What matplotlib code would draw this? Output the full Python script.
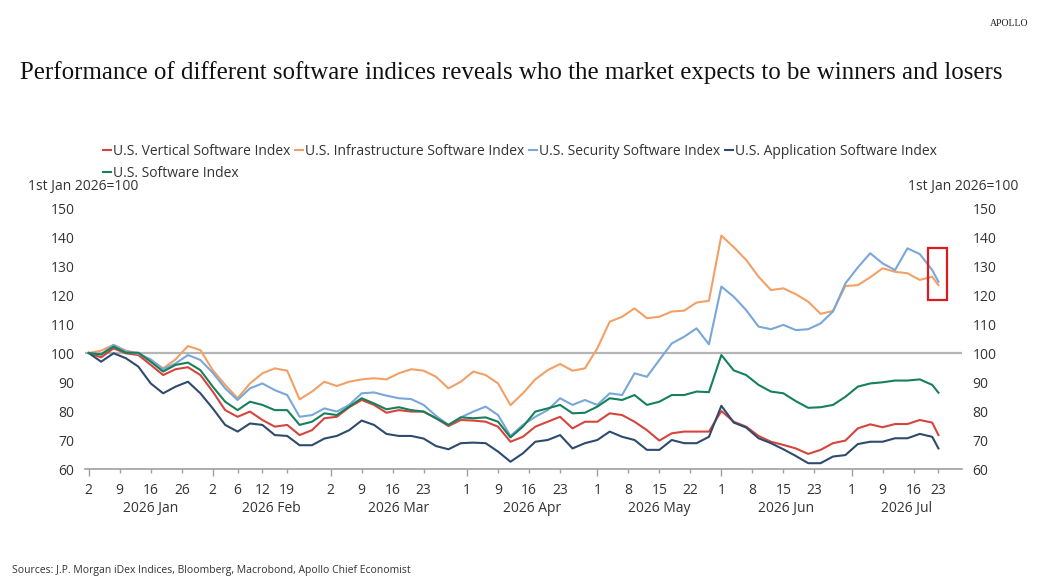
import matplotlib
matplotlib.use("Agg")
import matplotlib.pyplot as plt
import matplotlib.transforms as mtransforms
from matplotlib.patches import Rectangle
import numpy as np

# trading-day index of each reading (Jan 2 = 0)
days = list(range(0, 137, 2)) + [137]

vertical = [100, 98.5, 101.6, 99.9, 99.3, 95.9, 92.4, 94.4, 95.1, 92.4, 86.7, 80.3, 78, 79.8, 76.9, 74.6, 75.2, 71.7,
            73.4, 77.5, 78, 81.3, 83.8, 82.1, 79.4, 80.3, 79.8, 79.8, 77.5, 74.8, 76.9, 76.7, 76.3, 74.6, 69.4,
            71.1, 74.6, 76.3, 78, 74, 76.3, 76.3, 79.2, 78.6, 76.3, 73.4, 69.8, 72.3, 72.9, 72.9, 72.9, 80, 76.3,
            74.6, 71.4, 69.4, 68.3, 67.1, 65.2, 66.6, 68.9, 69.8, 74, 75.4, 74.4, 75.5, 75.5, 76.9, 76, 71.7]
infra = [100, 100.8, 102.8, 100.8, 99.9, 97.6, 94.7, 97.8, 102.4, 101, 94.1, 89, 84.4, 89.5, 93, 94.7, 93.9, 84,
         86.7, 90.1, 88.6, 90.1, 90.9, 91.3, 90.9, 93, 94.4, 93.9, 91.8, 87.8, 90.1, 93.6, 92.4, 89.5, 82,
         86.1, 90.9, 94.1, 96.2, 93.9, 94.7, 101.6, 110.8, 112.5, 115.4, 112, 112.5, 114.3, 114.6, 117.4, 118, 140.5, 136.5,
         132.1, 126.3, 121.7, 122.3, 120.3, 117.7, 113.5, 114.5, 123.1, 123.4, 126.1, 129.2, 128, 127.5, 125.2, 126.3, 123.4]
security = [100, 99.5, 102.8, 100.5, 99.7, 97.8, 94.4, 96.4, 99.3, 97.6, 93.2, 87.8, 83.8, 87.8, 89.5, 87.2, 85.5, 78,
            78.6, 80.9, 79.8, 82.1, 86.1, 86.4, 85.3, 84.4, 84.1, 82.1, 78.3, 75.2, 77.8, 79.8, 81.5, 78.6, 71.4,
            75.2, 78, 80.3, 84.4, 82.1, 83.8, 82.1, 86.1, 85.5, 93, 91.8, 97.6, 103.3, 105.6, 108.5, 103, 122.9, 119.4,
            114.8, 109.1, 108.2, 109.7, 107.9, 108.2, 110.2, 114.3, 124, 129.5, 134.4, 130.9, 128.6, 136.1, 134.1, 128.6, 124.6]
application = [100, 97, 99.9, 98.2, 95.3, 89.5, 86.1, 88.4, 90.1, 86.1, 80.9, 75.2, 72.9, 75.7, 75.2, 71.7, 71.4, 68.2,
               68.2, 70.5, 71.4, 73.4, 76.7, 75.2, 72.1, 71.4, 71.4, 70.5, 67.9, 66.8, 68.9, 69.1, 68.9, 66, 62.5,
               65.4, 69.4, 70, 71.7, 67.1, 68.9, 70, 72.9, 71.1, 70, 66.6, 66.6, 70, 68.9, 68.9, 71.1, 81.8, 76,
               74.3, 70.6, 68.9, 66.8, 64.5, 62, 62, 64.3, 64.8, 68.6, 69.4, 69.4, 70.6, 70.6, 72.1, 71.1, 67.1]
software = [100, 99.5, 102.2, 100.1, 100.1, 97, 93.6, 95.9, 96.7, 94.1, 88.4, 83.2, 80.3, 83.2, 82.1, 80.3, 80.3, 75.2,
            76.3, 79.2, 78.6, 81.5, 84.4, 82.6, 80.6, 81.3, 80.3, 79.8, 77.5, 75.2, 77.8, 77.5, 77.8, 76.3, 70.9,
            74.6, 79.8, 80.9, 82.1, 79.2, 79.4, 81.5, 84.4, 83.8, 85.5, 82.1, 83.2, 85.5, 85.5, 86.7, 86.5, 99.3, 94,
            92.4, 89, 86.7, 86.1, 83.4, 81.1, 81.3, 82.1, 84.9, 88.4, 89.5, 89.9, 90.5, 90.5, 90.9, 89, 86.3]

series_names = ["U.S. Vertical Software Index", "U.S. Infrastructure Software Index",
                "U.S. Security Software Index", "U.S. Application Software Index", "U.S. Software Index"]
series_colors = ["#d6453d", "#f2a066", "#79a7d9", "#2e4a6e", "#17805a"]

# x tick labels (trading-day index, label)
tick_days = [0, 5, 10, 15, 20, 24, 28, 32, 39, 44, 49, 54, 61, 66, 71, 76,
             82, 87, 92, 97, 102, 107, 112, 117, 123, 128, 133, 137]
tick_labels = ["2", "9", "16", "26", "2", "6", "12", "19", "2", "9", "16", "23", "1", "9", "16", "23",
               "1", "8", "15", "22", "1", "8", "15", "23", "1", "9", "16", "23"]
month_starts = [0, 20, 39, 61, 82, 102, 123]
month_labels = ["2026 Jan", "2026 Feb", "2026 Mar", "2026 Apr", "2026 May", "2026 Jun", "2026 Jul"]

plt.rcParams['font.family'] = ['Open Sans', 'DejaVu Sans']

fig = plt.figure(figsize=(10.46, 5.86), dpi=100)
ax = fig.add_axes([85/1046, 1-469/586, 877/1046, 261/586])

ax.axhline(100, color="#b5b5b5", lw=1.6, zorder=1)
allvals = [vertical, infra, security, application, software]
handles = []
for vals, name, col in zip(allvals, series_names, series_colors):
    h, = ax.plot(days, vals, color=col, lw=1.5, label=name, zorder=3)
    handles.append(h)

xmin, xmax = -0.6, 140.8
ax.set_xlim(xmin, xmax)
ax.set_ylim(60, 150)
ax.set_yticks(range(60, 151, 10))

for s in ["left", "right", "top"]:
    ax.spines[s].set_visible(False)
ax.spines["bottom"].set_color("#a0a0a0")
ax.spines["bottom"].set_linewidth(1.2)

ax.tick_params(axis="y", left=False, right=False, labelleft=True, labelright=True,
               labelsize=10, labelcolor="#333333", pad=4)

major_pos = [d for d in tick_days if d in month_starts]
major_lab = [l for d, l in zip(tick_days, tick_labels) if d in month_starts]
minor_pos = [d for d in tick_days if d not in month_starts]
minor_lab = [l for d, l in zip(tick_days, tick_labels) if d not in month_starts]
ax.set_xticks(major_pos)
ax.set_xticklabels(major_lab)
ax.set_xticks(minor_pos, minor=True)
ax.set_xticklabels(minor_lab, minor=True)
ax.tick_params(axis="x", which="major", length=5, width=1, color="#a0a0a0", pad=5,
               labelsize=10, labelcolor="#333333")
ax.tick_params(axis="x", which="minor", length=3, width=1, color="#a0a0a0", pad=7,
               labelsize=10, labelcolor="#333333")

# month labels centred in each month
trans = mtransforms.blended_transform_factory(ax.transData, ax.transAxes)
bounds = month_starts + [xmax]
for k, name in enumerate(month_labels):
    ax.text((bounds[k] + bounds[k+1]) / 2, -0.15, name, transform=trans,
            ha="center", va="center", fontsize=10, color="#333333")

# red box around the latest readings
last_hi = max(infra[-1], security[-1])
ax.add_patch(Rectangle((days[-1] - 1.7, last_hi - 6.3), 3.1, 17.9, fill=False,
                       edgecolor="#e0191e", lw=1.6, zorder=5))

# legend filled row by row: reorder for matplotlib's column filling
order = [0, 4, 1, 2, 3]
leg = fig.legend([handles[i] for i in order], [series_names[i] for i in order],
                 loc="upper left", bbox_to_anchor=(103/1046, 1-144/586), ncol=4, frameon=False,
                 fontsize=10, handlelength=0.6, handletextpad=0.15, columnspacing=0.3,
                 borderaxespad=0, borderpad=0, labelspacing=0.5)
for t in leg.get_texts():
    t.set_color("#333333")

fig.text(28/1046, 1-186/586, "1st Jan 2026=100", fontsize=10, color="#333333", va="center")
fig.text(1018/1046, 1-186/586, "1st Jan 2026=100", fontsize=10, color="#333333", va="center", ha="right")

fig.text(20/1046, 1-73/586, "Performance of different software indices reveals who the market expects to be winners and losers",
         fontsize=17.9, family="Liberation Serif", color="#111111", va="center")
fig.text(1028/1046, 1-24/586, "APOLLO", fontsize=7, family="Liberation Serif", color="#222222",
         ha="right", va="center")
fig.text(12/1046, 1-571/586, "Sources: J.P. Morgan iDex Indices, Bloomberg, Macrobond, Apollo Chief Economist",
         fontsize=7.5, color="#333333", va="center")

fig.savefig("out.png", dpi=100)
